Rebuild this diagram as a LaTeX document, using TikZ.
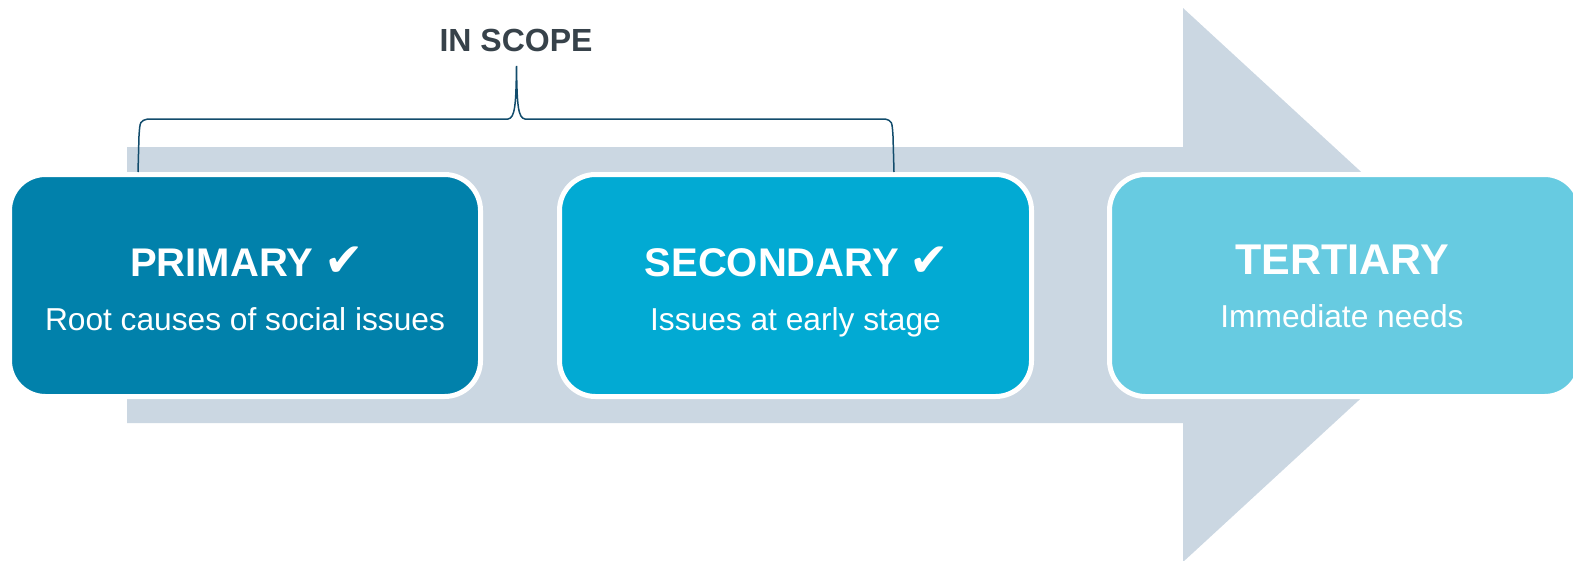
\documentclass[tikz,border=0pt]{standalone}
\usepackage{fontspec}
\setmainfont{Liberation Sans}
\newfontfamily\symfont{DejaVu Sans}
\usetikzlibrary{arrows}

\definecolor{arrowC}{HTML}{CBD7E2}
\definecolor{primC}{HTML}{0181AB}
\definecolor{secC}{HTML}{02AAD3}
\definecolor{tertC}{HTML}{67CBE1}
\definecolor{braceC}{HTML}{124C6C}
\definecolor{scopeC}{HTML}{37424A}

\begin{document}
\begin{tikzpicture}[x = 1pt, y = -1pt]
\tikzstyle{StageStyle}=[
shape = rectangle,
rounded corners = 36pt,
draw = white,
line width = 5pt,
minimum width = 471pt,
minimum height = 222pt,
inner sep = 0pt]
\tikzstyle{TitleStyle}=[
anchor = base,
inner sep = 0pt,
text = white,
font = \fontsize{40}{48}\selectfont\bfseries]
\tikzstyle{SubStyle}=[
anchor = base,
inner sep = 0pt,
text = white,
font = \fontsize{31.7}{38}\selectfont]
\useasboundingbox (0,0) rectangle (1573,560);
\clip (0,0) rectangle (1573,560);
% big arrow behind the stages
\fill[arrowC] (127,147) -- (1183,147) -- (1183,8) -- (1484,285) -- (1183,562) -- (1183,423) -- (127,423) -- cycle;
% stages
\node[StageStyle, fill = primC](primary) at (245,285.5) {};
\node[StageStyle, fill = secC, minimum width = 472pt](secondary) at (795.5,285.5) {};
\node[StageStyle, fill = tertC](tertiary) at (1345,285.5) {};
\node[TitleStyle](primaryT) at (247,276) {PRIMARY {\symfont\mdseries\fontsize{47}{50}\selectfont ✔}};
\node[SubStyle](primaryS) at (245,330) {Root causes of social issues};
\node[TitleStyle](secondaryT) at (797,276) {SECONDARY {\symfont\mdseries\fontsize{47}{50}\selectfont ✔}};
\node[SubStyle](secondaryS) at (795.5,330) {Issues at early stage};
\node[TitleStyle, font = \fontsize{43}{50}\selectfont\bfseries](tertiaryT) at (1342,274) {TERTIARY};
\node[SubStyle](tertiaryS) at (1342,327) {Immediate needs};
% scope brace
\node[anchor = base, inner sep = 0pt, text = scopeC, font = \fontsize{32}{38}\selectfont\bfseries](scope) at (516,51) {IN SCOPE};
\coordinate (braceL) at (138,172);
\coordinate (braceR) at (894,172);
\coordinate (peak) at (516.5,66);
\draw[braceC, line width = 1.5pt] (braceL) -- (139,136) .. controls (140,121) .. (148,119) -- (508,119) .. controls (515,118) and (516,105) .. (peak) .. controls (517,105) and (518,118) .. (525,119) -- (885,119) .. controls (892,121) .. (893,136) -- (braceR);
\end{tikzpicture}
\end{document}
